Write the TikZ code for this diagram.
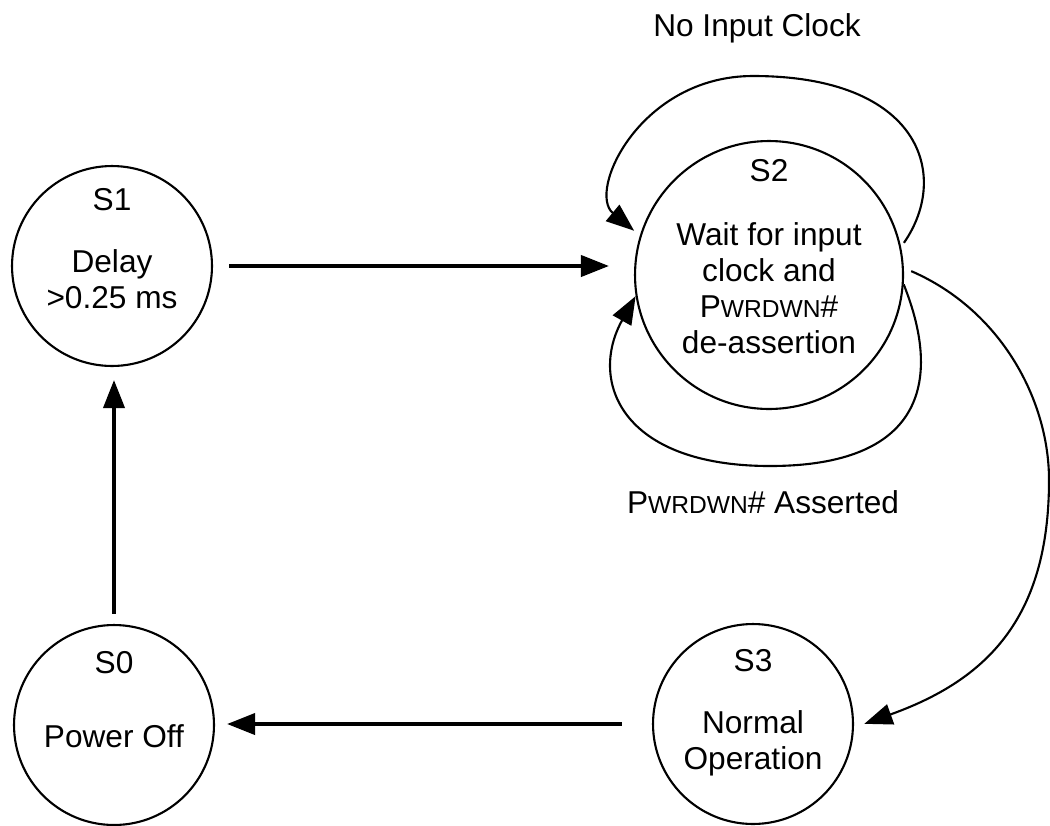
\documentclass[tikz,border=0pt]{standalone}
\usepackage{fontspec}
\setmainfont{Liberation Sans}
\usetikzlibrary{arrows.meta,calc}
\newcommand{\statefont}{\fontsize{18}{20.5}\selectfont}
\newcommand{\pwrdwn}{P{\fontsize{14}{14}\selectfont WRDWN}\#}
\tikzset{
>={Triangle[length=0.56cm,width=0.42cm]},
  state/.style={
    circle,
    draw=black, line width=1.2pt,
    minimum size=4cm,
    inner sep=0pt},
  bigstate/.style={state, minimum size=5.36cm},
  statename/.style={font=\statefont, inner sep=0pt},
  statetext/.style={font=\statefont, align=center, inner sep=0pt},
  translabel/.style={font=\statefont, inner sep=0pt},
  trans/.style={draw, ->, line width=2.2pt},
  loopedge/.style={draw, ->, line width=1.2pt},
}

\begin{document}
\begin{tikzpicture}
  [x=0.02cm, y=0.02cm]
  \useasboundingbox (0,0) rectangle (1050,-825);
  % the four states
  \node[state] (delay) at (112,-266) {};
  \node[bigstate] (waitclk) at (769,-275) {};
  \node[state] (poweroff) at (114,-725) {};
  \node[state] (normal) at (753,-724) {};
  %% state names and what they do
  \node[statename] (delayname) at (112,-200) {S1};
  \node[statetext] (delaytext) at (112,-279) {Delay\\>0.25 ms};
  \node[statename] (waitname) at (769,-171) {S2};
  \node[statetext] (waittext) at (769,-288)
      {Wait for input\\clock and\\\pwrdwn\\de-assertion};
  \node[statename] (powername) at (114,-663) {S0};
  \node[statetext] (powertext) at (114,-736) {Power Off};
  \node[statename] (normalname) at (753,-661) {S3};
  \node[statetext] (normaltext) at (753,-743) {Normal\\Operation};
  % straight transitions
  \draw[trans, shorten <=0.32cm, shorten >=0.5cm]
      (delay.east) -- (delay.east -| waitclk.west);
  \draw[trans, shorten <=0.2cm, shorten >=0.26cm]
      (poweroff.north) -- (poweroff.north |- delay.south);
  \draw[trans, shorten <=0.6cm, shorten >=0.24cm]
      (normal.west) -- (normal.west -| poweroff.east);
  % loops on S2 and the way out to S3
  \draw[loopedge, shorten <=0.1cm, shorten >=0.15cm]
      (waitclk.12) .. controls +(50,72) and +(167,0) .. (753,-76)
      .. controls +(-113,0) and +(-53,44) .. (waitclk.163);
  \draw[loopedge]
      (waitclk.-4) .. controls +(40,-100) and +(150,0) .. (770,-466)
      .. controls +(-150,0) and +(-47,-84) .. (waitclk.189);
  \draw[loopedge, shorten <=0.16cm, shorten >=0.22cm]
      (waitclk.3) .. controls +(97,-42) and +(0,80) .. (1049,-480)
      .. controls +(0,-140) and +(131,47) .. (normal.-2);
  %% loop labels
  \node[translabel] (noclk) at (757,-28) {No Input Clock};
  \node[translabel] (pwrasrt) at (763,-502) {\pwrdwn{} Asserted};
\end{tikzpicture}
\end{document}
